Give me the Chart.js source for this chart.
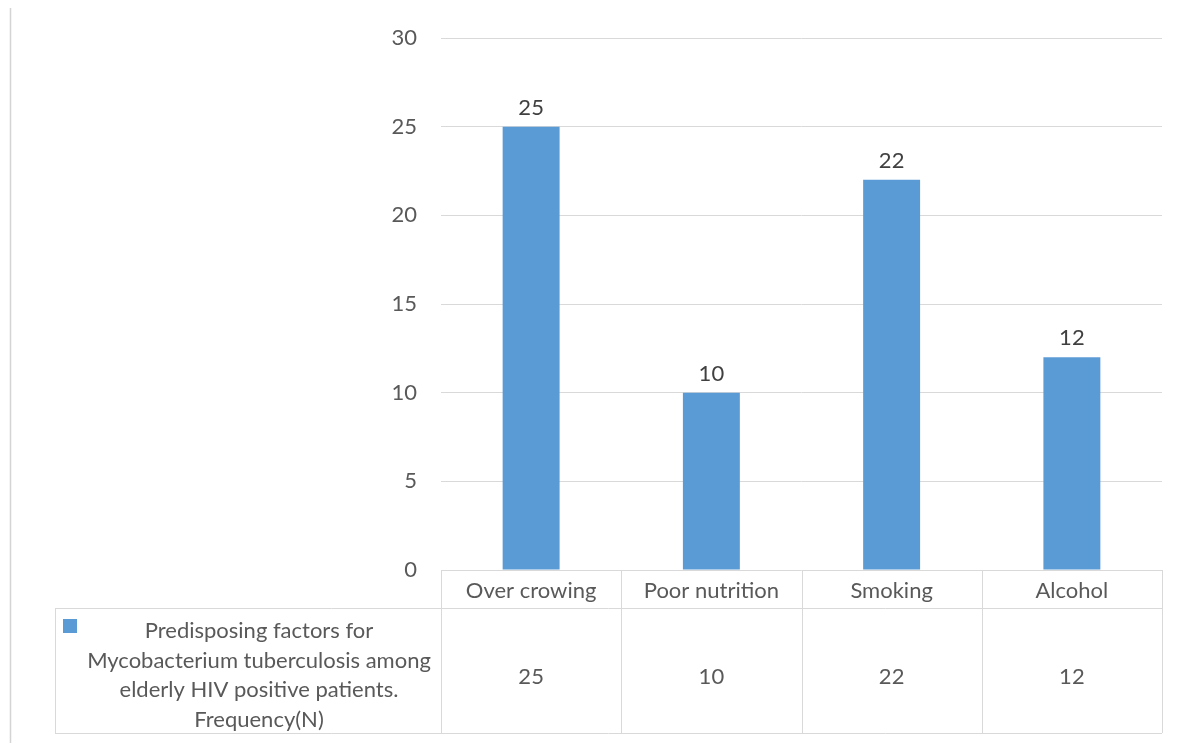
<!DOCTYPE html>
<html><head><meta charset="utf-8">
<script src="https://cdn.jsdelivr.net/npm/chart.js@4.4.0/dist/chart.umd.min.js"></script>
<style>html,body{margin:0;padding:0;background:#fff;overflow:hidden}#wrap{position:relative;width:1184px;height:743px}</style>
</head><body><div id="wrap"><canvas id="c" width="1184" height="743"></canvas></div>
<script>
const categories = ['Over crowing', 'Poor nutrition', 'Smoking', 'Alcohol'];
const frequency = [25, 10, 22, 12];
const yTicks = [0, 5, 10, 15, 20, 25, 30];
const seriesName = ['Predisposing factors for', 'Mycobacterium tuberculosis among', 'elderly HIV positive patients.', 'Frequency(N)'];

const FONT = "Lato, 'Open Sans', sans-serif";
const FS = 22;
const GRID = '#d9d9d9';
const TXT = '#595959';
const BAR = '#5b9bd5';

const tablePlugin = {
  id: 'dataTable',
  afterDraw(chart) {
    const ctx = chart.ctx;
    const a = chart.chartArea;
    const xs = chart.scales.x;
    const n = categories.length;
    const cw = a.width / n;
    const headBottom = a.bottom + 38;
    const tableBottom = 733;
    const tableLeft = 55;
    ctx.save();
    // left page border
    ctx.strokeStyle = '#d4d4d4';
    ctx.lineWidth = 1.5;
    ctx.beginPath();
    ctx.moveTo(10.5, 8); ctx.lineTo(10.5, 743);
    ctx.stroke();
    // table lines
    ctx.strokeStyle = GRID;
    ctx.lineWidth = 1;
    ctx.beginPath();
    ctx.moveTo(tableLeft, headBottom + 0.5); ctx.lineTo(a.right, headBottom + 0.5);
    ctx.moveTo(tableLeft, tableBottom + 0.5); ctx.lineTo(a.right, tableBottom + 0.5);
    ctx.moveTo(tableLeft + 0.5, headBottom); ctx.lineTo(tableLeft + 0.5, tableBottom);
    for (let i = 0; i <= n; i++) {
      const x = Math.round(a.left + i * cw) + 0.5;
      ctx.moveTo(x, a.bottom); ctx.lineTo(x, tableBottom);
    }
    ctx.stroke();
    // value row
    ctx.fillStyle = TXT;
    ctx.font = FS + 'px ' + FONT;
    ctx.textAlign = 'center';
    ctx.textBaseline = 'alphabetic';
    frequency.forEach((v, i) => {
      ctx.fillText(String(v), xs.getPixelForValue(i), 684);
    });
    // legend key + series name
    ctx.fillStyle = BAR;
    ctx.fillRect(tableLeft + 8, headBottom + 11, 14, 14);
    ctx.fillStyle = TXT;
    const cx = (tableLeft + 22 + a.left) / 2;
    const base = [638, 668, 697, 727];
    seriesName.forEach((s, i) => ctx.fillText(s, cx, base[i]));
    // data labels
    ctx.fillStyle = '#404040';
    const meta = chart.getDatasetMeta(0);
    meta.data.forEach((bar, i) => {
      ctx.fillText(String(frequency[i]), bar.x, bar.y - 12);
    });
    ctx.restore();
  }
};

new Chart(document.getElementById('c'), {
  type: 'bar',
  data: {
    labels: categories,
    datasets: [{
      label: seriesName.join(' '),
      data: frequency,
      backgroundColor: BAR,
      borderWidth: 0,
      barPercentage: 0.316,
      categoryPercentage: 1
    }]
  },
  options: {
    responsive: false,
    animation: false,
    layout: { padding: { top: 38, right: 22, left: 0, bottom: 0 } },
    plugins: { legend: { display: false }, tooltip: { enabled: false }, title: { display: false } },
    scales: {
      x: {
        offset: true,
        grid: { display: false, drawTicks: false },
        border: { display: false },
        ticks: { color: TXT, font: { family: FONT, size: FS }, padding: 8, maxRotation: 0, autoSkip: false },
        afterFit: s => { s.height = 173; }
      },
      y: {
        min: 0, max: 30,
        afterBuildTicks: s => { s.ticks = yTicks.map(v => ({ value: v })); },
        grid: { color: GRID, lineWidth: 1, drawTicks: false },
        border: { display: false },
        ticks: { color: TXT, font: { family: FONT, size: FS }, padding: 24 },
        afterFit: s => { s.width = 441; }
      }
    }
  },
  plugins: [tablePlugin]
});
</script></body></html>
